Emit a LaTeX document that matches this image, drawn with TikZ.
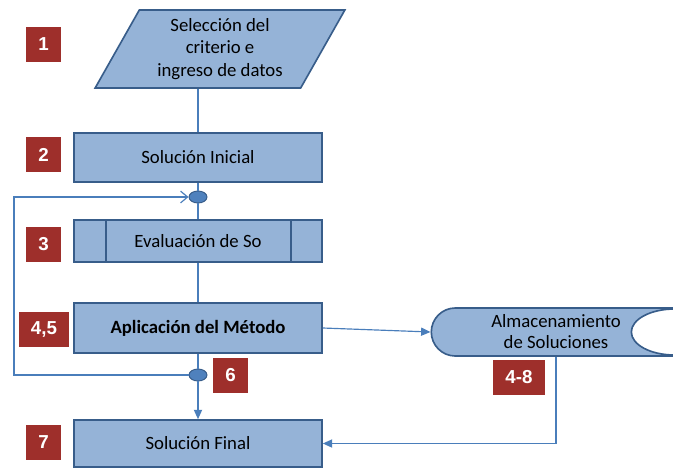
\documentclass[tikz,border=0pt]{standalone}
\usepackage{fontspec}
\setmainfont{Carlito}
\newfontfamily\marcafont{Liberation Sans}
\usetikzlibrary{shapes,arrows.meta}
\definecolor{relleno}{HTML}{95B3D7}
\definecolor{borde}{HTML}{385D8A}
\definecolor{conector}{HTML}{4A7EBB}
\definecolor{rojo}{HTML}{9E2F2B}
\definecolor{punto}{HTML}{4F81BD}
\tikzstyle{caja}=[rectangle,draw=borde,line width=1.4pt,
fill=relleno,minimum width=7.44cm,text=black,
font=\fontsize{16}{19}\selectfont]
\tikzstyle{subproceso}=[caja,path picture={
\draw[borde,line width=1.4pt]
([xshift=0.96cm]path picture bounding box.north west)--([xshift=0.96cm]path picture bounding box.south west)
([xshift=-0.93cm]path picture bounding box.north east)--([xshift=-0.93cm]path picture bounding box.south east);}]
\tikzstyle{datos}=[trapezium,trapezium left angle=62,trapezium right angle=118,
trapezium stretches=true,minimum width=7.5cm,minimum height=2.34cm,
draw=borde,line width=1.4pt,fill=relleno,text=black,align=center,
font=\fontsize{16}{19}\selectfont]
\tikzstyle{almacen}=[rounded rectangle,rounded rectangle right arc=none,
minimum width=7.5cm,minimum height=1.44cm,draw=borde,line width=1.4pt,
fill=relleno,text=black,align=center,font=\fontsize{16}{18}\selectfont]
\tikzstyle{nodo}=[ellipse,draw=borde,fill=punto,line width=0.8pt,
minimum width=0.54cm,minimum height=0.36cm,inner sep=0pt]
\tikzstyle{numero}=[rectangle,fill=rojo,text=white,minimum width=1.05cm,
minimum height=1.05cm,inner sep=0pt,font=\marcafont\bfseries\fontsize{16}{16}\selectfont]
\tikzstyle{linea}=[draw=conector,line width=1pt]
\tikzstyle{flecha}=[linea,-{Triangle[length=8pt,width=7pt]}]
\tikzstyle{retorno}=[linea,-{Straight Barb[length=6pt,width=10pt]}]

\begin{document}
\begin{tikzpicture}[x=0.03cm,y=-0.03cm]
\useasboundingbox (0,0) rectangle (673,471);
\clip (0,0) rectangle (673,471);

\node[datos] (D) at (220,49) {Selección del\\criterio e\\ingreso de datos};
\node[caja,minimum height=1.47cm] (SI) at (198,157.5) {Solución Inicial};
\node[nodo] (P1) at (198,197) {};
\node[subproceso,minimum height=1.26cm] (EV) at (198,241) {Evaluación de So};
\node[caja,minimum height=1.5cm,font=\fontsize{16}{19}\selectfont\bfseries] (AM) at (198,328) {Aplicación del Método};
\node[nodo] (P2) at (198,375) {};
\node[caja,minimum height=1.41cm] (SF) at (198,443.5) {Solución Final};
\node[almacen] (AS) at (556,332) {Almacenamiento\\de Soluciones};
\draw[borde,line width=1.4pt,fill=white] (AS.east) ellipse [x radius=1.29cm,y radius=0.69cm];
\coordinate (R) at (14,286);

\node[numero] (N1) at (43.5,44.5) {1};
\node[numero] (N2) at (43.5,154.5) {2};
\node[numero] (N3) at (43.5,244) {3};
\node[numero,minimum width=1.5cm] (N45) at (44,329.5) {4,5};
\node[numero] (N6) at (230.5,375) {6};
\node[numero] (N7) at (43.5,442) {7};
\node[numero,minimum width=1.56cm] (N48) at (519,377) {4-8};

\draw[linea] (SI.north) -- (SI.north |- D.south);
\draw[linea] (SI.south) -- (P1.north);
\draw[linea] (P1.south) -- (EV.north);
\draw[linea] (EV.south) -- (AM.north);
\draw[linea] (AM.south) -- (P2.north);
\draw[flecha] (P2.south) -- (SF.north);
\draw[retorno] (P2.west) -| (R) |- (P1.west);
\draw[flecha] (AM.east) -- (AS.west);
\draw[flecha] (AS.south) |- (SF.east);
\end{tikzpicture}
\end{document}
